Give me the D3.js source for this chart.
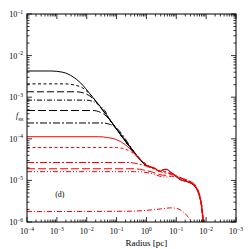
<!DOCTYPE html>
<html>
<head>
<meta charset="utf-8">
<script src="https://cdn.jsdelivr.net/npm/d3@7"></script>
<style>
  body { margin: 0; background: #fff; }
  svg { display: block; }
  text { font-family: 'Liberation Serif', 'DejaVu Serif', serif; fill: #000; }
</style>
</head>
<body>
<svg id="chart" width="249" height="249"></svg>
<script>
// values, as [log10 R (pc), log10 f]
const blackSolid = [[-4,-2.37],[-3.2,-2.37],[-2.8,-2.4],[-2.46,-2.51],[-2.2,-2.66],[-1.89,-2.92],[-1.5,-3.27],[-1.0,-3.76],[-0.5,-4.24],[-0.2,-4.52],[0,-4.64],[0.3,-4.72],[0.45,-4.79],[0.55,-4.75],[0.68,-4.74],[0.8,-4.8],[0.95,-4.88],[1.12,-4.98],[1.3,-5.02],[1.46,-5.06],[1.6,-5.13],[1.72,-5.27],[1.8,-5.45],[1.85,-5.65],[1.9,-6.0]];
const blackShortDash = [[-4,-2.68],[-2.7,-2.68],[-2.4,-2.71],[-2.15,-2.77],[-1.89,-2.93],[-1.5,-3.28],[-1.0,-3.77],[-0.5,-4.25],[0,-4.65]];
const blackLongDash = [[-4,-2.87],[-2.35,-2.87],[-2.1,-2.9],[-1.9,-2.97],[-1.7,-3.1],[-1.5,-3.28],[-1.0,-3.77],[-0.5,-4.25],[0,-4.65]];
const blackDashDot = [[-4,-3.07],[-2.0,-3.07],[-1.8,-3.1],[-1.6,-3.18],[-1.4,-3.32],[-1.2,-3.57],[-1.0,-3.77],[-0.5,-4.25],[0,-4.65]];
const blackLongDash2 = [[-4,-3.32],[-1.8,-3.32],[-1.55,-3.36],[-1.35,-3.45],[-1.15,-3.62],[-1.0,-3.77],[-0.5,-4.25],[0,-4.65]];
const blackDashDot2 = [[-4,-3.62],[-1.45,-3.62],[-1.2,-3.66],[-1.0,-3.74],[-0.85,-3.86],[-0.6,-4.12],[-0.3,-4.42],[0,-4.65]];

const redSolid = [[-4,-3.95],[-1.6,-3.95],[-1.3,-3.97],[-1.0,-4.02],[-0.75,-4.12],[-0.55,-4.24],[-0.35,-4.4],[-0.2,-4.5],[0,-4.63],[0.3,-4.71],[0.45,-4.78],[0.55,-4.74],[0.68,-4.73],[0.8,-4.79],[0.95,-4.87],[1.12,-4.97],[1.3,-5.01],[1.46,-5.05],[1.6,-5.12],[1.72,-5.26],[1.8,-5.44],[1.86,-5.7],[1.9,-6.0]];
const redShortDash = [[-4,-4.21],[-1.0,-4.21],[-0.75,-4.24],[-0.5,-4.32],[-0.3,-4.43],[-0.1,-4.56],[0.1,-4.66],[0.3,-4.73],[0.5,-4.78],[0.7,-4.8],[0.9,-4.86],[1.1,-4.95],[1.3,-5.0],[1.5,-5.05],[1.62,-5.13],[1.74,-5.28],[1.82,-5.48],[1.88,-5.75],[1.91,-6.0]];
const redLongDashDot = [[-4,-4.57],[-0.6,-4.57],[-0.3,-4.6],[0,-4.66],[0.3,-4.74],[0.5,-4.8],[0.7,-4.83],[0.9,-4.85],[1.1,-4.93],[1.3,-4.98],[1.5,-5.04],[1.65,-5.15],[1.76,-5.32],[1.83,-5.55],[1.89,-6.0]];
const redLongDash = [[-4,-4.72],[-0.4,-4.72],[-0.1,-4.75],[0.2,-4.8],[0.45,-4.86],[0.65,-4.88],[0.85,-4.86],[1.05,-4.9],[1.25,-4.97],[1.45,-5.02],[1.62,-5.1],[1.74,-5.25],[1.82,-5.46],[1.87,-5.7],[1.9,-6.0]];
const redDashDotDot = [[-4,-4.79],[-0.4,-4.79],[-0.1,-4.8],[0.2,-4.84],[0.45,-4.9],[0.65,-4.92],[0.85,-4.9],[1.05,-4.92],[1.25,-4.97],[1.45,-5.03],[1.62,-5.12],[1.74,-5.27],[1.82,-5.5],[1.88,-5.8],[1.91,-6.0]];
const redDashDot = [[-4,-5.75],[-0.5,-5.74],[0,-5.72],[0.3,-5.7],[0.55,-5.68],[0.8,-5.66],[1.0,-5.67],[1.2,-5.74],[1.35,-5.84],[1.45,-5.93],[1.52,-6.0]];

const xTickExps = [-4, -3, -2, -1, 0, 1, 2, 3];
const yTickExps = [-6, -5, -4, -3, -2, -1];
const panelLabel = '(d)';
const xLabel = 'Radius [pc]';

const series = [
  { data: blackSolid, color: '#000', dash: null },
  { data: blackShortDash, color: '#000', dash: '3,2.5' },
  { data: blackLongDash, color: '#000', dash: '7,3' },
  { data: blackDashDot, color: '#000', dash: '5,2,1,2' },
  { data: blackLongDash2, color: '#000', dash: '8,3' },
  { data: blackDashDot2, color: '#000', dash: '7,2,2,2' },
  { data: redSolid, color: '#f00', dash: null },
  { data: redShortDash, color: '#f00', dash: '3,2.5' },
  { data: redLongDashDot, color: '#f00', dash: '7,2,2,2' },
  { data: redLongDash, color: '#f00', dash: '8,3' },
  { data: redDashDotDot, color: '#f00', dash: '5,2,1,2,1,2' },
  { data: redDashDot, color: '#f00', dash: '5,2,1,2' },
];

const margin = { top: 14, right: 13, bottom: 27, left: 27 };
const svg = d3.select('#chart');
const width = 249 - margin.left - margin.right;
const height = 249 - margin.top - margin.bottom;

const x = d3.scaleLog().domain([1e-4, 1e3]).range([0, width]);
const y = d3.scaleLog().domain([1e-6, 1e-1]).range([height, 0]);

const root = svg.append('g').attr('transform', `translate(${margin.left}, ${margin.top})`);

root.append('clipPath').attr('id', 'clip')
  .append('rect').attr('width', width).attr('height', height);

const line = d3.line()
  .x(d => x(Math.pow(10, d[0])))
  .y(d => y(Math.pow(10, d[1])))
  .curve(d3.curveMonotoneX);

const lines = root.append('g').attr('clip-path', 'url(#clip)');
series.forEach(s => {
  lines.append('path')
    .datum(s.data)
    .attr('fill', 'none')
    .attr('stroke', s.color)
    .attr('stroke-width', 1)
    .attr('stroke-dasharray', s.dash)
    .attr('d', line);
});

// tick positions (major + minor)
const minor = (exps) => {
  const out = [];
  exps.slice(0, -1).forEach(e => {
    for (let k = 2; k <= 9; k++) out.push(k * Math.pow(10, e));
  });
  return out;
};
const xMajor = xTickExps.map(e => Math.pow(10, e));
const yMajor = yTickExps.map(e => Math.pow(10, e));
const xMinor = minor(xTickExps);
const yMinor = minor(yTickExps);

const ticks = root.append('g').attr('stroke', '#000').attr('stroke-width', 0.8);
const addX = (vals, len) => {
  vals.forEach(v => {
    ticks.append('line').attr('x1', x(v)).attr('x2', x(v)).attr('y1', height).attr('y2', height - len);
    ticks.append('line').attr('x1', x(v)).attr('x2', x(v)).attr('y1', 0).attr('y2', len);
  });
};
const addY = (vals, len) => {
  vals.forEach(v => {
    ticks.append('line').attr('y1', y(v)).attr('y2', y(v)).attr('x1', 0).attr('x2', len);
    ticks.append('line').attr('y1', y(v)).attr('y2', y(v)).attr('x1', width).attr('x2', width - len);
  });
};
addX(xMajor, 5); addX(xMinor, 2.5);
addY(yMajor, 5); addY(yMinor, 2.5);

root.append('rect')
  .attr('width', width).attr('height', height)
  .attr('fill', 'none').attr('stroke', '#000').attr('stroke-width', 1);

// tick labels
const xl = root.append('g').attr('font-size', 8);
xTickExps.forEach(e => {
  const t = xl.append('text').attr('x', x(Math.pow(10, e))).attr('y', height + 12).attr('text-anchor', 'middle');
  t.append('tspan').text('10');
  t.append('tspan').attr('dy', -3.5).attr('font-size', 5.5).text(e === 0 ? '0' : '\u2212' + Math.abs(e));
});
const yl = root.append('g').attr('font-size', 8);
yTickExps.forEach(e => {
  const t = yl.append('text').attr('x', -4).attr('y', y(Math.pow(10, e)) + 3).attr('text-anchor', 'end');
  t.append('tspan').text('10');
  t.append('tspan').attr('dy', -3.5).attr('font-size', 5.5).text('\u2212' + Math.abs(e));
});

root.append('text')
  .attr('x', x(1)).attr('y', height + 24)
  .attr('text-anchor', 'middle').attr('font-size', 9)
  .text(xLabel);

const fl = root.append('text').attr('x', -11).attr('y', y(Math.pow(10, -3.45)) + 2).attr('font-size', 8).attr('font-style', 'italic');
fl.append('tspan').text('f');
fl.append('tspan').attr('dy', 2).attr('font-size', 5).attr('font-style', 'normal').text('gg');

root.append('text')
  .attr('x', x(Math.pow(10, -2.9))).attr('y', y(Math.pow(10, -5.4)))
  .attr('font-size', 8).attr('text-anchor', 'middle')
  .text(panelLabel);
</script>
</body>
</html>
